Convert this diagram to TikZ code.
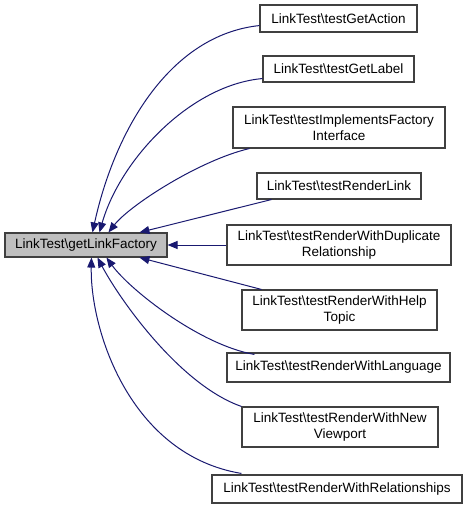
\documentclass[tikz,border=0pt]{standalone}
\usepackage{fontspec}
\setmainfont{Liberation Sans}
\usetikzlibrary{arrows.meta,calc}
\definecolor{edgecol}{HTML}{191970}
\definecolor{boxline}{HTML}{404040}
\definecolor{mainfill}{HTML}{BFBFBF}
\tikzset{
  fn/.style={draw=boxline, line width=1.1pt, fill=white, align=center, inner sep=0pt,
    font=\fontsize{13.5pt}{15.5pt}\selectfont},
  edge/.style={draw=edgecol, line width=1pt, -{Triangle[length=10pt,width=8pt]}},
}
\begin{document}
\begin{tikzpicture}[x=1pt,y=-1pt]
\useasboundingbox (0,0) rectangle (468,505);
\node[fn, fill=mainfill, minimum width=162pt, minimum height=24pt] (main) at (86,245) {LinkTest\textbackslash getLinkFactory};
\node[fn, minimum width=157pt, minimum height=27pt] (ga) at (338.5,18.5) {LinkTest\textbackslash testGetAction};
\node[fn, minimum width=151pt, minimum height=26pt] (gl) at (338.5,69) {LinkTest\textbackslash testGetLabel};
\node[fn, minimum width=212pt, minimum height=41pt] (imp) at (339,127.5) {LinkTest\textbackslash testImplementsFactory\\Interface};
\node[fn, minimum width=164pt, minimum height=26pt] (rl) at (339,186) {LinkTest\textbackslash testRenderLink};
\node[fn, minimum width=224pt, minimum height=40pt] (dup) at (339,245) {LinkTest\textbackslash testRenderWithDuplicate\\Relationship};
\node[fn, minimum width=195pt, minimum height=40pt] (help) at (339.5,310) {LinkTest\textbackslash testRenderWithHelp\\Topic};
\node[fn, minimum width=223pt, minimum height=29pt] (lang) at (338.5,367.5) {LinkTest\textbackslash testRenderWithLanguage};
\node[fn, minimum width=196pt, minimum height=40pt] (nv) at (340,427) {LinkTest\textbackslash testRenderWithNew\\Viewport};
\node[fn, minimum width=250pt, minimum height=28pt] (rel) at (337,489) {LinkTest\textbackslash testRenderWithRelationships};
% connectors
\draw[edge] ($(ga.south west)+(0,-7)$) .. controls (170,35) and (115,130) .. ($(main.north west)+(88,0)$);
\draw[edge] ($(gl.south west)+(0,-4)$) .. controls (190,85) and (120,160) .. ($(main.north west)+(95,0)$);
\draw[edge] ($(imp.south west)+(17,0)$) .. controls (200,160) and (130,205) .. ($(main.north west)+(104,0)$);
\draw[edge] ($(rl.south west)+(15,0)$) -- ($(main.north west)+(135,0)$);
\draw[edge] (dup.west) -- (main.east);
\draw[edge] ($(help.north west)+(20,0)$) -- ($(main.south west)+(135,0)$);
\draw[edge] ($(lang.north west)+(28,2)$) .. controls (200,345) and (130,290) .. ($(main.south west)+(102,0)$);
\draw[edge] ($(nv.north west)+(0,0)$) .. controls (180,385) and (120,300) .. ($(main.south west)+(93,0)$);
\draw[edge] ($(rel.north west)+(30,-1)$) .. controls (130,455) and (90,330) .. ($(main.south west)+(87,0)$);
\end{tikzpicture}
\end{document}
